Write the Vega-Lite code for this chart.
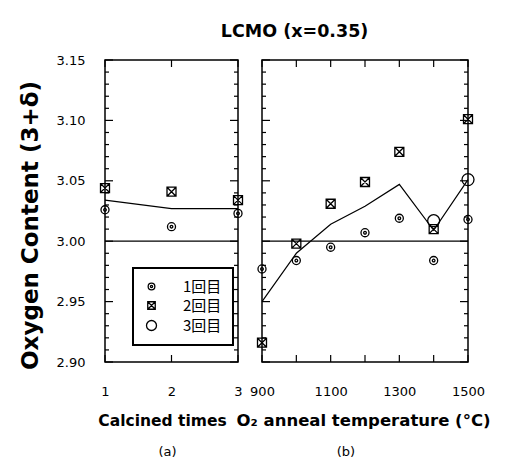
{
  "$schema": "https://vega.github.io/schema/vega-lite/v6.json",
  "padding": {"left": 18, "top": 22, "right": 5, "bottom": 0},
  "title": {"text": "LCMO  (x=0.35)", "fontSize": 17.5, "font": "DejaVu Sans", "fontWeight": "bold", "color": "black", "anchor": "middle", "offset": 13, "dx": 40},
  "spacing": 24,
  "bounds": "flush",
  "datasets": {
    "ref": [{"oxygen": 3.0}],
    "yticks": [
      {"oxygen": 2.90}, {"oxygen": 2.91}, {"oxygen": 2.92}, {"oxygen": 2.93}, {"oxygen": 2.94}, {"oxygen": 2.95},
      {"oxygen": 2.96}, {"oxygen": 2.97}, {"oxygen": 2.98}, {"oxygen": 2.99}, {"oxygen": 3.00}, {"oxygen": 3.01},
      {"oxygen": 3.02}, {"oxygen": 3.03}, {"oxygen": 3.04}, {"oxygen": 3.05}, {"oxygen": 3.06}, {"oxygen": 3.07},
      {"oxygen": 3.08}, {"oxygen": 3.09}, {"oxygen": 3.10}, {"oxygen": 3.11}, {"oxygen": 3.12}, {"oxygen": 3.13},
      {"oxygen": 3.14}, {"oxygen": 3.15}
    ],
    "a_xticks": [{"calcined": 1}, {"calcined": 2}, {"calcined": 3}],
    "b_xticks": [{"temperature": 900}, {"temperature": 1000}, {"temperature": 1100}, {"temperature": 1200}, {"temperature": 1300}, {"temperature": 1400}, {"temperature": 1500}],
    "a_fit": [
      {"calcined": 1, "oxygen": 3.034},
      {"calcined": 2, "oxygen": 3.027},
      {"calcined": 3, "oxygen": 3.027}
    ],
    "a_points": [
      {"series": "1回目", "calcined": 1, "oxygen": 3.026},
      {"series": "1回目", "calcined": 2, "oxygen": 3.012},
      {"series": "1回目", "calcined": 3, "oxygen": 3.023},
      {"series": "2回目", "calcined": 1, "oxygen": 3.044},
      {"series": "2回目", "calcined": 2, "oxygen": 3.041},
      {"series": "2回目", "calcined": 3, "oxygen": 3.034}
    ],
    "b_fit": [
      {"temperature": 900, "oxygen": 2.950},
      {"temperature": 1000, "oxygen": 2.990},
      {"temperature": 1100, "oxygen": 3.014},
      {"temperature": 1200, "oxygen": 3.029},
      {"temperature": 1300, "oxygen": 3.047},
      {"temperature": 1400, "oxygen": 3.009},
      {"temperature": 1500, "oxygen": 3.051}
    ],
    "b_points": [
      {"series": "1回目", "temperature": 900, "oxygen": 2.977},
      {"series": "1回目", "temperature": 1000, "oxygen": 2.984},
      {"series": "1回目", "temperature": 1100, "oxygen": 2.995},
      {"series": "1回目", "temperature": 1200, "oxygen": 3.007},
      {"series": "1回目", "temperature": 1300, "oxygen": 3.019},
      {"series": "1回目", "temperature": 1400, "oxygen": 2.984},
      {"series": "1回目", "temperature": 1500, "oxygen": 3.018},
      {"series": "2回目", "temperature": 900, "oxygen": 2.916},
      {"series": "2回目", "temperature": 1000, "oxygen": 2.998},
      {"series": "2回目", "temperature": 1100, "oxygen": 3.031},
      {"series": "2回目", "temperature": 1200, "oxygen": 3.049},
      {"series": "2回目", "temperature": 1300, "oxygen": 3.074},
      {"series": "2回目", "temperature": 1400, "oxygen": 3.010},
      {"series": "2回目", "temperature": 1500, "oxygen": 3.101},
      {"series": "3回目", "temperature": 1400, "oxygen": 3.017},
      {"series": "3回目", "temperature": 1500, "oxygen": 3.051}
    ]
  },
  "hconcat": [
    {
      "width": 133,
      "height": 302,
      "title": {"text": "(a)", "orient": "bottom", "fontSize": 13, "fontWeight": "normal", "font": "DejaVu Sans", "color": "black", "offset": 17, "dx": -4},
      "layer": [
        {
          "data": {"name": "ref"},
          "mark": {"type": "rule", "color": "black", "strokeWidth": 1.2},
          "encoding": {
            "y": {"field": "oxygen", "type": "quantitative", "scale": {"domain": [2.9, 3.15], "nice": false, "zero": false}, "axis": null}
          }
        },
        {
          "data": {"name": "a_fit"},
          "mark": {"type": "line", "color": "black", "strokeWidth": 1.2},
          "encoding": {
            "x": {"field": "calcined", "type": "quantitative", "scale": {"domain": [1, 3], "nice": false, "zero": false},
              "axis": {"orient": "bottom", "values": [1, 2, 3], "labelExpr": "format(datum.value, 'd')", "labelOverlap": false, "ticks": false, "grid": false, "labelPadding": 23, "title": "Calcined times", "titleFontSize": 15.5, "titlePadding": 15, "titleX": 57, "titleAlign": "center"}},
            "y": {"field": "oxygen", "type": "quantitative", "scale": {"domain": [2.9, 3.15], "nice": false, "zero": false},
              "axis": {"orient": "left", "values": [2.9, 2.95, 3.0, 3.05, 3.1, 3.15], "format": ".2f", "labelOverlap": false, "ticks": false, "grid": false, "labelPadding": 20,
                "title": "Oxygen Content (3+δ)", "titleFontSize": 23, "titlePadding": 14, "titleY": 165}}
          }
        },
        {
          "data": {"name": "yticks"},
          "transform": [{"filter": "round(datum.oxygen * 100) % 5 == 0"}],
          "mark": {"type": "tick", "orient": "horizontal", "size": 8, "thickness": 1.2, "xOffset": 4, "color": "black", "opacity": 1},
          "encoding": {
            "x": {"datum": 1, "type": "quantitative", "axis": null},
            "y": {"field": "oxygen", "type": "quantitative", "axis": null}
          }
        },
        {
          "data": {"name": "yticks"},
          "transform": [{"filter": "round(datum.oxygen * 100) % 5 != 0"}],
          "mark": {"type": "tick", "orient": "horizontal", "size": 4, "thickness": 1.2, "xOffset": 2, "color": "black", "opacity": 1},
          "encoding": {
            "x": {"datum": 1, "type": "quantitative", "axis": null},
            "y": {"field": "oxygen", "type": "quantitative", "axis": null}
          }
        },
        {
          "data": {"name": "yticks"},
          "transform": [{"filter": "round(datum.oxygen * 100) % 5 == 0"}],
          "mark": {"type": "tick", "orient": "horizontal", "size": 8, "thickness": 1.2, "xOffset": -4, "color": "black", "opacity": 1},
          "encoding": {
            "x": {"datum": 3, "type": "quantitative", "axis": null},
            "y": {"field": "oxygen", "type": "quantitative", "axis": null}
          }
        },
        {
          "data": {"name": "yticks"},
          "transform": [{"filter": "round(datum.oxygen * 100) % 5 != 0"}],
          "mark": {"type": "tick", "orient": "horizontal", "size": 4, "thickness": 1.2, "xOffset": -2, "color": "black", "opacity": 1},
          "encoding": {
            "x": {"datum": 3, "type": "quantitative", "axis": null},
            "y": {"field": "oxygen", "type": "quantitative", "axis": null}
          }
        },
        {
          "data": {"name": "a_xticks"},
          "mark": {"type": "tick", "orient": "vertical", "size": 7, "thickness": 1.2, "yOffset": 3.5, "color": "black", "opacity": 1},
          "encoding": {
            "x": {"field": "calcined", "type": "quantitative", "axis": null},
            "y": {"datum": 3.15, "type": "quantitative", "axis": null}
          }
        },
        {
          "data": {"name": "a_xticks"},
          "mark": {"type": "tick", "orient": "vertical", "size": 7, "thickness": 1.2, "yOffset": -3.5, "color": "black", "opacity": 1},
          "encoding": {
            "x": {"field": "calcined", "type": "quantitative", "axis": null},
            "y": {"datum": 2.9, "type": "quantitative", "axis": null}
          }
        },
        {
          "data": {"name": "a_points"},
          "mark": {"type": "point", "filled": false, "stroke": "black", "strokeWidth": 1.3, "size": 144, "opacity": 1},
          "encoding": {
            "x": {"field": "calcined", "type": "quantitative", "axis": null},
            "y": {"field": "oxygen", "type": "quantitative", "axis": null},
            "shape": {"field": "series", "type": "nominal",
              "scale": {"domain": ["1回目", "2回目", "3回目"], "range": ["M-0.67,0A0.67,0.67,0,1,1,0.67,0A0.67,0.67,0,1,1,-0.67,0Z M-0.22,0A0.22,0.22,0,1,1,0.22,0A0.22,0.22,0,1,1,-0.22,0Z", "M-0.75,-0.75L0.75,-0.75L0.75,0.75L-0.75,0.75Z M-0.75,-0.75L0.75,0.75 M0.75,-0.75L-0.75,0.75", "circle"]},
              "legend": {"orient": "none", "legendX": 28, "legendY": 208, "title": null}}
          }
        }
      ],
      "resolve": {"axis": {"x": "independent", "y": "independent"}}
    },
    {
      "width": 206,
      "height": 302,
      "title": {"text": "(b)", "orient": "bottom", "fontSize": 13, "fontWeight": "normal", "font": "DejaVu Sans", "color": "black", "offset": 17, "dx": -19},
      "layer": [
        {
          "data": {"name": "ref"},
          "mark": {"type": "rule", "color": "black", "strokeWidth": 1.2},
          "encoding": {
            "y": {"field": "oxygen", "type": "quantitative", "scale": {"domain": [2.9, 3.15], "nice": false, "zero": false}, "axis": null}
          }
        },
        {
          "data": {"name": "b_fit"},
          "mark": {"type": "line", "color": "black", "strokeWidth": 1.2},
          "encoding": {
            "x": {"field": "temperature", "type": "quantitative", "scale": {"domain": [900, 1500], "nice": false, "zero": false},
              "axis": {"orient": "bottom", "values": [900, 1000, 1100, 1200, 1300, 1400, 1500], "labelExpr": "datum.value % 200 == 100 ? format(datum.value, 'd') : ''", "labelOverlap": false, "ticks": false, "grid": false, "labelPadding": 23, "title": "O₂ anneal temperature (°C)", "titleFontSize": 16.5, "titlePadding": 14, "titleX": -26, "titleAlign": "left"}},
            "y": {"field": "oxygen", "type": "quantitative", "scale": {"domain": [2.9, 3.15], "nice": false, "zero": false}, "axis": null}
          }
        },
        {
          "data": {"name": "yticks"},
          "transform": [{"filter": "round(datum.oxygen * 100) % 5 == 0"}],
          "mark": {"type": "tick", "orient": "horizontal", "size": 8, "thickness": 1.2, "xOffset": 4, "color": "black", "opacity": 1},
          "encoding": {
            "x": {"datum": 900, "type": "quantitative", "axis": null},
            "y": {"field": "oxygen", "type": "quantitative", "axis": null}
          }
        },
        {
          "data": {"name": "yticks"},
          "transform": [{"filter": "round(datum.oxygen * 100) % 5 != 0"}],
          "mark": {"type": "tick", "orient": "horizontal", "size": 4, "thickness": 1.2, "xOffset": 2, "color": "black", "opacity": 1},
          "encoding": {
            "x": {"datum": 900, "type": "quantitative", "axis": null},
            "y": {"field": "oxygen", "type": "quantitative", "axis": null}
          }
        },
        {
          "data": {"name": "yticks"},
          "transform": [{"filter": "round(datum.oxygen * 100) % 5 == 0"}],
          "mark": {"type": "tick", "orient": "horizontal", "size": 8, "thickness": 1.2, "xOffset": -4, "color": "black", "opacity": 1},
          "encoding": {
            "x": {"datum": 1500, "type": "quantitative", "axis": null},
            "y": {"field": "oxygen", "type": "quantitative", "axis": null}
          }
        },
        {
          "data": {"name": "yticks"},
          "transform": [{"filter": "round(datum.oxygen * 100) % 5 != 0"}],
          "mark": {"type": "tick", "orient": "horizontal", "size": 4, "thickness": 1.2, "xOffset": -2, "color": "black", "opacity": 1},
          "encoding": {
            "x": {"datum": 1500, "type": "quantitative", "axis": null},
            "y": {"field": "oxygen", "type": "quantitative", "axis": null}
          }
        },
        {
          "data": {"name": "b_xticks"},
          "mark": {"type": "tick", "orient": "vertical", "size": 7, "thickness": 1.2, "yOffset": 3.5, "color": "black", "opacity": 1},
          "encoding": {
            "x": {"field": "temperature", "type": "quantitative", "axis": null},
            "y": {"datum": 3.15, "type": "quantitative", "axis": null}
          }
        },
        {
          "data": {"name": "b_xticks"},
          "mark": {"type": "tick", "orient": "vertical", "size": 7, "thickness": 1.2, "yOffset": -3.5, "color": "black", "opacity": 1},
          "encoding": {
            "x": {"field": "temperature", "type": "quantitative", "axis": null},
            "y": {"datum": 2.9, "type": "quantitative", "axis": null}
          }
        },
        {
          "data": {"name": "b_points"},
          "mark": {"type": "point", "filled": false, "stroke": "black", "strokeWidth": 1.3, "size": 144, "opacity": 1},
          "encoding": {
            "x": {"field": "temperature", "type": "quantitative", "axis": null},
            "y": {"field": "oxygen", "type": "quantitative", "axis": null},
            "shape": {"field": "series", "type": "nominal",
              "scale": {"domain": ["1回目", "2回目", "3回目"], "range": ["M-0.67,0A0.67,0.67,0,1,1,0.67,0A0.67,0.67,0,1,1,-0.67,0Z M-0.22,0A0.22,0.22,0,1,1,0.22,0A0.22,0.22,0,1,1,-0.22,0Z", "M-0.75,-0.75L0.75,-0.75L0.75,0.75L-0.75,0.75Z M-0.75,-0.75L0.75,0.75 M0.75,-0.75L-0.75,0.75", "circle"]},
              "legend": null}
          }
        }
      ],
      "resolve": {"axis": {"x": "independent", "y": "independent"}}
    }
  ],
  "resolve": {"legend": {"shape": "independent"}},
  "config": {
    "view": {"stroke": "black", "strokeWidth": 1.5},
    "axis": {"domain": false, "labelColor": "black", "labelFont": "DejaVu Sans", "labelFontSize": 13, "titleFont": "DejaVu Sans", "titleFontWeight": "bold", "titleColor": "black", "labelFlush": false},
    "legend": {"strokeColor": "black", "strokeWidth": 2, "fillColor": "white", "padding": 11, "rowPadding": 3, "labelFont": "Noto Sans CJK JP", "labelFontSize": 15, "labelColor": "black", "labelOffset": 24, "symbolSize": 100, "symbolStrokeColor": "black", "symbolStrokeWidth": 1.3, "symbolOpacity": 1}
  }
}
